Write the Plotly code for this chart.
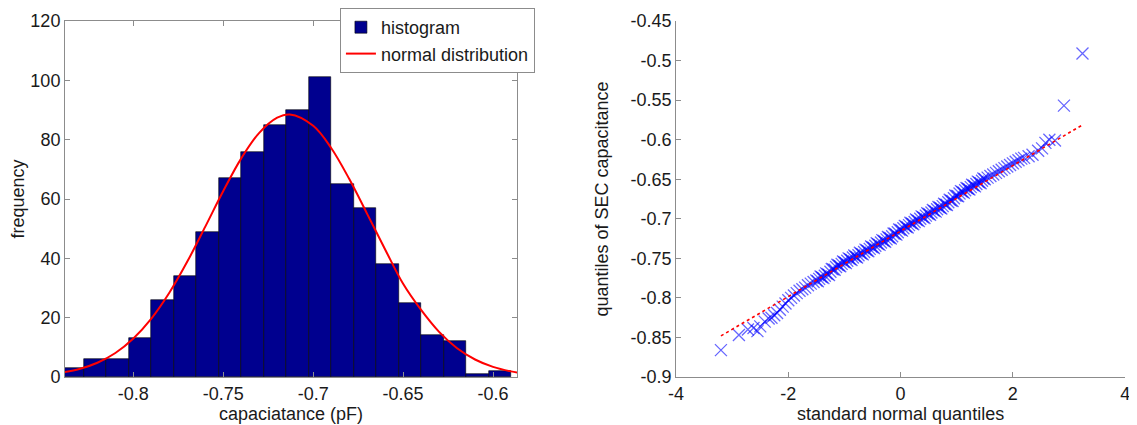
import plotly.graph_objects as go

# ---------------- data: histogram ----------------
bin_centers = [-0.83375, -0.82125, -0.80875, -0.79625, -0.78375, -0.77125, -0.75875,
               -0.74625, -0.73375, -0.72125, -0.70875, -0.69625, -0.68375, -0.67125,
               -0.65875, -0.64625, -0.63375, -0.62125, -0.60875, -0.59625]
bin_counts = [3, 6, 6, 13, 26, 34, 49, 67, 76, 85, 90, 101, 65, 57, 38, 25, 14, 12, 1, 2]
bin_width = 0.0125

# normal distribution curve
curve_x = [-0.84, -0.83, -0.82, -0.81, -0.80, -0.79, -0.78, -0.77, -0.76, -0.75, -0.74,
           -0.73, -0.72, -0.713, -0.70, -0.69, -0.68, -0.67, -0.66, -0.65, -0.64, -0.63,
           -0.62, -0.61, -0.60, -0.59, -0.58]
curve_y = [1.5, 2.7, 4.8, 8.1, 13.0, 19.7, 28.4, 38.9, 50.7, 62.7, 73.7,
           82.3, 87.4, 88.5, 84.7, 77.2, 66.8, 55.0, 43.0, 31.4, 22.6, 15.2,
           9.7, 5.9, 3.4, 1.9, 1.0]

hist_xticks = [-0.8, -0.75, -0.7, -0.65, -0.6]
hist_xticklabels = ["-0.8", "-0.75", "-0.7", "-0.65", "-0.6"]
hist_yticks = [0, 20, 40, 60, 80, 100, 120]

# ---------------- data: QQ plot (points read along the band) ----------------
qq_x_main = [-3.20, -2.88, -2.72, -2.62, -2.55, -2.50, -2.42, -2.35, -2.30, -2.25, -2.20,
             -2.15, -2.10, -2.05,
             -2.00, -1.95, -1.90, -1.85, -1.80, -1.75, -1.70, -1.65, -1.60, -1.55, -1.50,
             -1.45, -1.40, -1.35, -1.30, -1.25, -1.20, -1.15, -1.10, -1.05, -1.00, -0.95,
             -0.90, -0.85, -0.80, -0.75, -0.70, -0.65, -0.60, -0.55, -0.50, -0.45, -0.40,
             -0.35, -0.30, -0.25, -0.20, -0.15, -0.10, -0.05, 0.00, 0.05, 0.10, 0.15,
             0.20, 0.25, 0.30, 0.35, 0.40, 0.45, 0.50, 0.55, 0.60, 0.65, 0.70, 0.75,
             0.80, 0.85, 0.90, 0.95, 1.00, 1.05, 1.10, 1.15, 1.20, 1.25, 1.30, 1.35,
             1.40, 1.45, 1.50, 1.55, 1.60, 1.65, 1.70, 1.75, 1.80, 1.85, 1.90, 1.95, 2.00,
             2.05, 2.10, 2.15, 2.20, 2.28, 2.35, 2.45, 2.52, 2.58, 2.65, 2.75, 2.91, 3.24]
qq_y_main = [-0.866, -0.847, -0.840, -0.838, -0.842, -0.836, -0.830, -0.826, -0.825, -0.822, -0.819,
             -0.815, -0.811, -0.807,
             -0.803, -0.800, -0.797, -0.794, -0.791, -0.789, -0.787, -0.784, -0.782, -0.780, -0.778,
             -0.776, -0.774, -0.772, -0.770, -0.767, -0.764, -0.761, -0.759, -0.757, -0.755, -0.753,
             -0.751, -0.749, -0.748, -0.746, -0.744, -0.742, -0.740, -0.738, -0.736, -0.734, -0.732,
             -0.730, -0.728, -0.726, -0.724, -0.722, -0.719, -0.717, -0.714, -0.712, -0.710, -0.708,
             -0.706, -0.704, -0.702, -0.700, -0.698, -0.696, -0.694, -0.692, -0.690, -0.688, -0.686, -0.684,
             -0.682, -0.679, -0.677, -0.674, -0.671, -0.668, -0.666, -0.664, -0.662, -0.660, -0.658, -0.656,
             -0.654, -0.652, -0.650, -0.648, -0.646, -0.644, -0.642, -0.640, -0.638, -0.636, -0.634, -0.632, -0.630,
             -0.628, -0.626, -0.624, -0.623, -0.621, -0.619, -0.614, -0.611, -0.604, -0.600, -0.601, -0.557, -0.491]

qq_x_dense = [-1.475, -1.425, -1.375, -1.325, -1.275, -1.225, -1.175, -1.125, -1.075, -1.025,
              -0.975, -0.925, -0.875, -0.825, -0.775, -0.725, -0.675, -0.625, -0.575, -0.525,
              -0.475, -0.425, -0.375, -0.325, -0.275, -0.225, -0.175, -0.125, -0.075, -0.025,
              0.025, 0.075, 0.125, 0.175, 0.225, 0.275, 0.325, 0.375, 0.425, 0.475,
              0.525, 0.575, 0.625, 0.675, 0.725, 0.775, 0.825, 0.875, 0.925, 0.975,
              1.025, 1.075, 1.125, 1.175, 1.225, 1.275, 1.325, 1.375, 1.425, 1.475]
qq_y_dense = [-0.779, -0.773, -0.775, -0.769, -0.771, -0.7635, -0.7645, -0.758, -0.760, -0.754,
              -0.756, -0.750, -0.752, -0.7465, -0.749, -0.743, -0.745, -0.739, -0.741, -0.735,
              -0.737, -0.731, -0.733, -0.727, -0.729, -0.723, -0.725, -0.7185, -0.720, -0.7135,
              -0.715, -0.709, -0.711, -0.705, -0.707, -0.701, -0.703, -0.697, -0.699, -0.693,
              -0.695, -0.689, -0.691, -0.685, -0.687, -0.681, -0.6825, -0.676, -0.6775, -0.6705,
              -0.6715, -0.665, -0.667, -0.661, -0.663, -0.657, -0.659, -0.653, -0.655, -0.649]

ref_line_x = [-3.20, 3.25]
ref_line_y = [-0.848, -0.581]

qq_xticks = [-4, -2, 0, 2, 4]
qq_xticklabels = ["-4", "-2", "0", "2", "4"]
qq_yticks = [-0.9, -0.85, -0.8, -0.75, -0.7, -0.65, -0.6, -0.55, -0.5, -0.45]
qq_yticklabels = ["-0.9", "-0.85", "-0.8", "-0.75", "-0.7", "-0.65", "-0.6", "-0.55", "-0.5", "-0.45"]

# ---------------- figure ----------------
FONT = "Liberation Sans, Arial, sans-serif"
AX = "#8c8c8c"
FS = 18

fig = go.Figure()

fig.add_trace(go.Bar(
    x=bin_centers, y=bin_counts, width=bin_width, name="histogram",
    marker=dict(color="#00008F", line=dict(color="#000000", width=0.6)),
    xaxis="x", yaxis="y", showlegend=True))

fig.add_trace(go.Scatter(
    x=curve_x, y=curve_y, mode="lines", line_shape="spline", name="normal distribution",
    line=dict(color="#FF0000", width=2), xaxis="x", yaxis="y"))

fig.add_trace(go.Scatter(
    x=qq_x_main + qq_x_dense, y=qq_y_main + qq_y_dense, mode="markers", showlegend=False,
    marker=dict(symbol="x-thin", size=12, color="#0000FF",
                line=dict(color="rgba(0,0,255,0.6)", width=1.3)),
    xaxis="x2", yaxis="y2"))

fig.add_trace(go.Scatter(
    x=ref_line_x, y=ref_line_y, mode="lines", showlegend=False,
    line=dict(color="#FF0000", width=1.6, dash="dot"),
    xaxis="x2", yaxis="y2"))

common = dict(showgrid=False, zeroline=False, showline=True, linecolor=AX, linewidth=1,
              ticks="inside", ticklen=5, tickcolor=AX, automargin=False,
              ticklabeloverflow="allow",
              tickfont=dict(family=FONT, size=FS, color="#1a1a1a"))
tfont = dict(family=FONT, size=FS, color="#1a1a1a")

# the page body adds an 8px offset, so the figure is 8px smaller than the window
fig.update_layout(
    width=1129, height=417,
    margin=dict(l=0, r=0, t=0, b=0),
    paper_bgcolor="white", plot_bgcolor="white",
    font=dict(family=FONT, size=FS, color="#1a1a1a"),
    bargap=0,
    xaxis=dict(domain=[0.0505, 0.4508], range=[-0.838, -0.5867], anchor="y",
               tickvals=hist_xticks, ticktext=hist_xticklabels, mirror="ticks",
               title=dict(text="capaciatance (pF)", standoff=0, font=tfont), **common),
    yaxis=dict(domain=[0.1151, 0.9688], range=[0, 120], anchor="x",
               tickvals=hist_yticks, mirror="ticks",
               title=dict(text="frequency", standoff=18, font=tfont), **common),
    xaxis2=dict(domain=[0.5917, 0.9895], range=[-4, 4], anchor="y2",
                tickvals=qq_xticks, ticktext=qq_xticklabels,
                title=dict(text="standard normal quantiles", standoff=0, font=tfont), **common),
    yaxis2=dict(domain=[0.1151, 0.9688], range=[-0.9, -0.45], anchor="x2",
                tickvals=qq_yticks, ticktext=qq_yticklabels,
                title=dict(text="quantiles of SEC capacitance", standoff=17, font=tfont), **common),
    legend=dict(x=0.294, y=1.0, xanchor="left", yanchor="top",
                bgcolor="white", bordercolor=AX, borderwidth=1,
                font=dict(family=FONT, size=FS, color="#1a1a1a"),
                itemwidth=30, tracegroupgap=0),
)

fig.write_html("out.html")
